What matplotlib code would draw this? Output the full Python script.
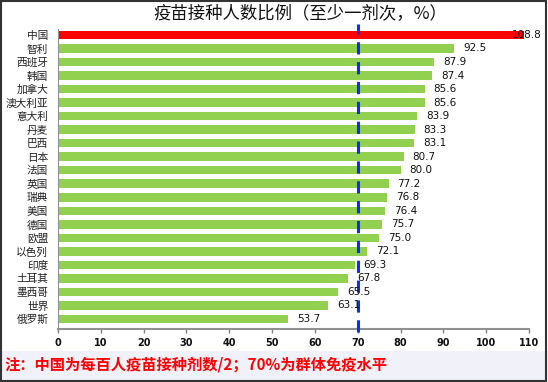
import matplotlib
matplotlib.use("Agg")
import matplotlib.pyplot as plt
from matplotlib.patches import Rectangle

plt.rcParams['font.family'] = ['Noto Sans CJK SC', 'DejaVu Sans']

# --- data ---
countries = ['中国', '智利', '西班牙', '韩国', '加拿大', '澳大利亚', '意大利', '丹麦', '巴西',
             '日本', '法国', '英国', '瑞典', '美国', '德国', '欧盟', '以色列', '印度', '土耳其',
             '墨西哥', '世界', '俄罗斯']
values = [108.8, 92.5, 87.9, 87.4, 85.6, 85.6, 83.9, 83.3, 83.1, 80.7, 80.0, 77.2, 76.8,
          76.4, 75.7, 75.0, 72.1, 69.3, 67.8, 65.5, 63.1, 53.7]
xticks = list(range(0, 111, 10))
herd_level = 70

title = '疫苗接种人数比例（至少一剂次，%）'
note = '注：中国为每百人疫苗接种剂数/2；70%为群体免疫水平'

GREEN = '#92d050'
RED = '#ff0000'

fig = plt.figure(figsize=(5.48, 3.82), dpi=100, facecolor='white')
ax = fig.add_axes([0.1058, 0.1395, 0.8595, 0.7846])

pos = list(range(len(countries)))
colors = [RED if c == '中国' else GREEN for c in countries]
ax.barh(pos, values, height=0.63, color=colors, edgecolor='none', zorder=2)

# value labels (the long China bar gets its label pulled back over the bar end)
for p, c, v in zip(pos, countries, values):
    if v > 100:
        ax.text(113.0, p, f'{v:.1f}', ha='right', va='center', fontsize=7.5,
                family='DejaVu Sans', color='#111111', clip_on=False, zorder=4)
    else:
        ax.text(v + 2.1, p, f'{v:.1f}', ha='left', va='center', fontsize=7.5,
                family='DejaVu Sans', color='#111111', zorder=4)

# 70% herd immunity line
ax.plot([herd_level, herd_level], [-0.011, 1.017], transform=ax.get_xaxis_transform(),
        color='#0033ff', lw=2.2, ls=(0, (4, 2.5)), clip_on=False, zorder=3)

ax.set_xlim(0, 110)
ax.set_ylim(len(countries) - 1 + 0.72, -0.44)
ax.set_xticks(xticks)
ax.set_yticks(pos)
ax.set_yticklabels(countries, fontsize=7.7, color='#222222')
ax.tick_params(axis='y', length=0, pad=7)
ax.tick_params(axis='x', length=3, width=1, color='#808080', pad=4, labelsize=7, labelcolor='#111111')
for lab in ax.get_xticklabels():
    lab.set_family(['Liberation Sans Narrow', 'DejaVu Sans'])
    lab.set_fontweight('bold')

for s in ['top', 'right']:
    ax.spines[s].set_visible(False)
ax.spines['left'].set_color('#909090')
ax.spines['bottom'].set_color('#909090')
ax.spines['bottom'].set_linewidth(1.5)

fig.text(0.548, 0.963, title, ha='center', va='center', fontsize=12.5, color='#111111')

# footer band and frame
fig.patches.append(Rectangle((0, 0.005), 1, 0.076, transform=fig.transFigure,
                             facecolor='#f1f1f9', edgecolor='none', zorder=0))
fig.patches.append(Rectangle((0.002, 0.003), 0.995, 0.994, transform=fig.transFigure,
                             facecolor='none', edgecolor='#333333', lw=1.5, zorder=5))
fig.text(0.009, 0.047, note, ha='left', va='center', fontsize=11, fontweight='bold', color=RED)

fig.savefig('out.png', dpi=100)
